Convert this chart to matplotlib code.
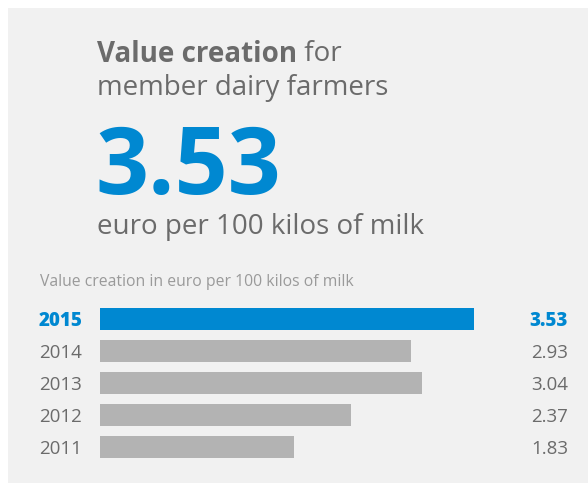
import matplotlib
matplotlib.use("Agg")
import matplotlib.pyplot as plt
from matplotlib.patches import Rectangle
from matplotlib.transforms import blended_transform_factory, offset_copy

# data
years = ["2015", "2014", "2013", "2012", "2011"]
values = [3.53, 2.93, 3.04, 2.37, 1.83]
value_labels = ["3.53", "2.93", "3.04", "2.37", "1.83"]
highlight = "2015"

W, H = 588, 483
BG = "#f1f1f1"
BLUE = "#0088d1"
GREY_BAR = "#b3b3b3"
TXT = "#6b6b6b"
SUB = "#9a9a9a"

plt.rcParams["font.family"] = ["Open Sans", "DejaVu Sans"]

fig = plt.figure(figsize=(W / 100, H / 100), dpi=100)
fig.patch.set_facecolor("white")

def fx(px):
    return px / W

def fy(py):
    return 1 - py / H

# grey panel
fig.add_artist(Rectangle((fx(8), 0), 1 - fx(8), fy(8), transform=fig.transFigure,
                         facecolor=BG, edgecolor="none", zorder=0))

# headline
t1 = fig.text(fx(97), fy(54), "Value creation", fontsize=20, fontweight="bold",
              color=TXT, va="center", ha="left")
fig.canvas.draw()
bb = t1.get_window_extent()
fig.text(bb.x1 / W, fy(54), " for", fontsize=20, color=TXT, va="center", ha="left")
fig.text(fx(97), fy(88), "member dairy farmers", fontsize=20, color=TXT,
         va="center", ha="left")
fig.text(fx(95), fy(194), "3.53", fontsize=67, fontweight="bold", color=BLUE,
         va="baseline", ha="left")
fig.text(fx(97), fy(227), "euro per 100 kilos of milk", fontsize=20, color=TXT,
         va="center", ha="left")
fig.text(fx(40), fy(282), "Value creation in euro per 100 kilos of milk",
         fontsize=11.3, color=SUB, va="center", ha="left")

# bars
ax = fig.add_axes([fx(100), fy(463), 1 - fx(100), (463 - 303) / H])
ax.set_facecolor("none")
pos = list(range(len(years)))
colors = [BLUE if y == highlight else GREY_BAR for y in years]
ax.barh(pos, values, height=0.67, color=colors)
ax.set_xlim(0, (W - 100) / 106)
ax.set_ylim(len(years) - 0.5, -0.5)
ax.axis("off")

tr = blended_transform_factory(fig.transFigure, ax.transData)
tr = offset_copy(tr, fig=fig, y=-2, units="dots")
for i, (y, lab) in enumerate(zip(years, value_labels)):
    hl = y == highlight
    c = BLUE if hl else TXT
    w = "heavy" if hl else "normal"
    ax.text(fx(39), i, y, transform=tr, fontsize=13.5, color=c, fontweight=w,
            va="center", ha="left")
    ax.text(fx(568), i, lab, transform=tr, fontsize=13.5, color=c, fontweight=w,
            va="center", ha="right")

fig.savefig("out.png", dpi=100, facecolor=fig.get_facecolor())
